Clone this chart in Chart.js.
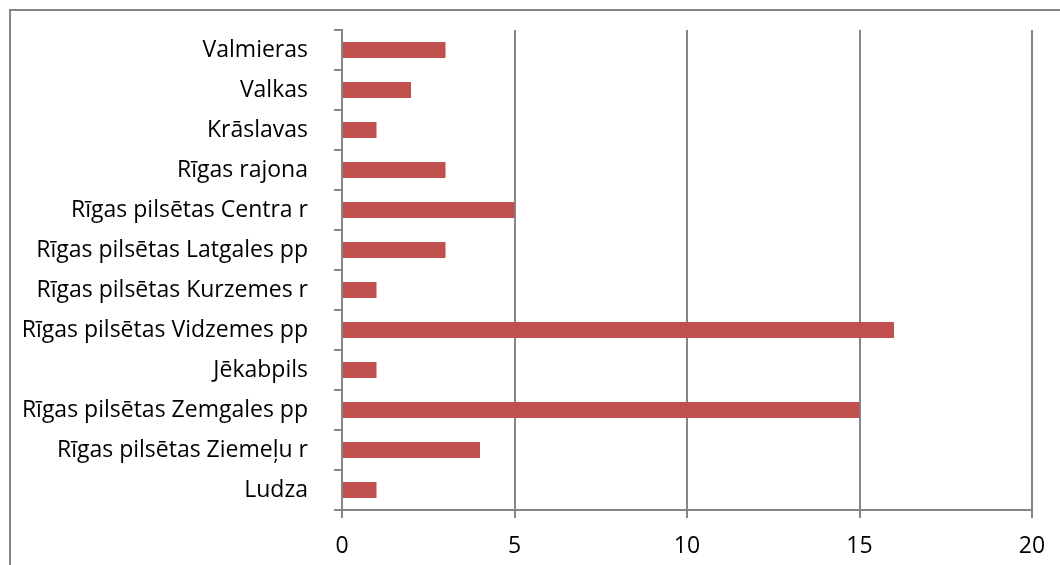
<!doctype html>
<html lang="lv">
  <head>
    <meta charset="utf-8">
    <title>Rajoni</title>
    <style>
    body { margin: 0; background: #fff; }
    #wrap { width: 1060px; height: 565px; position: relative; }
    </style>
  </head>
  <body>
    <div id="wrap">
      <canvas id="canvas"></canvas>
    </div>
    <script src="https://cdn.jsdelivr.net/npm/chart.js@4"></script>
    <script>
    const categories = [
      'Valmieras', 'Valkas', 'Krāslavas', 'Rīgas rajona',
      'Rīgas pilsētas Centra r', 'Rīgas pilsētas Latgales pp',
      'Rīgas pilsētas Kurzemes r', 'Rīgas pilsētas Vidzemes pp',
      'Jēkabpils', 'Rīgas pilsētas Zemgales pp',
      'Rīgas pilsētas Ziemeļu r', 'Ludza'
    ];
    const values = [3, 2, 1, 3, 5, 3, 1, 16, 1, 15, 4, 1];
    const xTicks = [0, 5, 10, 15, 20];

    // outer chart frame, cut off at right and bottom like the original
    const framePlugin = {
      id: 'frame',
      beforeDraw(chart) {
        const ctx = chart.ctx;
        ctx.save();
        ctx.strokeStyle = '#868686';
        ctx.lineWidth = 2;
        ctx.beginPath();
        ctx.moveTo(10, 600);
        ctx.lineTo(10, 10);
        ctx.lineTo(1100, 10);
        ctx.stroke();
        ctx.restore();
      }
    };

    const font = { family: 'Open Sans, Liberation Sans, sans-serif', size: 23 };

    new Chart(document.getElementById('canvas'), {
      type: 'bar',
      data: {
        labels: categories,
        datasets: [{
          data: values,
          backgroundColor: '#C0504D',
          borderWidth: 0,
          barPercentage: 0.8,
          categoryPercentage: 0.5
        }]
      },
      options: {
        indexAxis: 'y',
        responsive: true,
        maintainAspectRatio: false,
        animation: false,
        layout: { padding: { top: 30, right: 28, left: 0, bottom: 0 } },
        plugins: {
          legend: { display: false },
          tooltip: { enabled: false }
        },
        scales: {
          x: {
            min: 0,
            max: 20,
            afterBuildTicks(scale) {
              scale.ticks = xTicks.map(v => ({ value: v }));
            },
            afterFit(scale) {
              scale.height = 55;
              scale.paddingLeft = 0;
              scale.paddingRight = 0;
            },
            grid: {
              color: '#868686',
              lineWidth: 2,
              tickLength: 8
            },
            border: { color: '#868686', width: 2 },
            ticks: { color: '#000', font: font, padding: 15 }
          },
          y: {
            afterFit(scale) {
              scale.width = 342;
              scale.paddingTop = 0;
              scale.paddingBottom = 0;
            },
            grid: {
              offset: true,
              drawOnChartArea: false,
              color: '#868686',
              lineWidth: 2,
              tickLength: 8
            },
            border: { color: '#868686', width: 2 },
            ticks: { color: '#000', font: font, padding: 26, autoSkip: false }
          }
        }
      },
      plugins: [framePlugin]
    });
    </script>
  </body>
</html>
